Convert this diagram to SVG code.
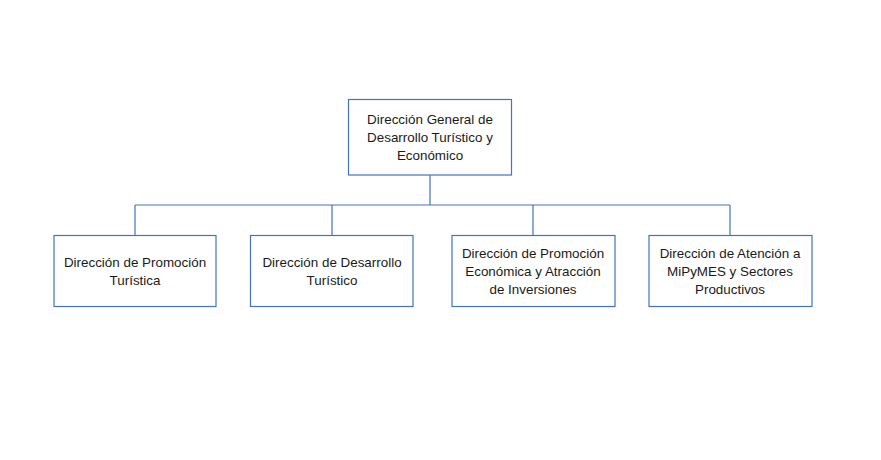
<svg xmlns="http://www.w3.org/2000/svg" width="881" height="460" viewBox="0 0 881 460">
<style>
.box{fill:#fff;stroke:#4472C4;stroke-width:1.2}
.ln{fill:none;stroke:#4472C4;stroke-width:1.2}
text{font-family:"Liberation Sans",Arial,sans-serif;font-size:13.4px;fill:#1a1a1a;text-anchor:middle}
</style>
<rect width="881" height="460" fill="#fff"/>
<g id="connectors">
<path class="ln" d="M430,175V205M135,205H730M135,205V235M332,205V235M533,205V235M730,205V235"/>
</g>
<g id="n0">
<rect class="box" x="348.5" y="99.5" width="163" height="75.5"/>
<text x="430" y="124">Dirección General de</text>
<text x="430" y="142">Desarrollo Turístico y</text>
<text x="430" y="160">Económico</text>
</g>
<g id="n1">
<rect class="box" x="54" y="235.5" width="162" height="71"/>
<text x="135" y="267">Dirección de Promoción</text>
<text x="135" y="285">Turística</text>
</g>
<g id="n2">
<rect class="box" x="250.5" y="235.5" width="162.5" height="71"/>
<text x="332" y="267">Dirección de Desarrollo</text>
<text x="332" y="285">Turístico</text>
</g>
<g id="n3">
<rect class="box" x="452" y="235.5" width="163" height="71"/>
<text x="533" y="258">Dirección de Promoción</text>
<text x="533" y="276">Económica y Atracción</text>
<text x="533" y="294">de Inversiones</text>
</g>
<g id="n4">
<rect class="box" x="649" y="235.5" width="163" height="71"/>
<text x="730" y="258">Dirección de Atención a</text>
<text x="730" y="276">MiPyMES y Sectores</text>
<text x="730" y="294">Productivos</text>
</g>
</svg>
